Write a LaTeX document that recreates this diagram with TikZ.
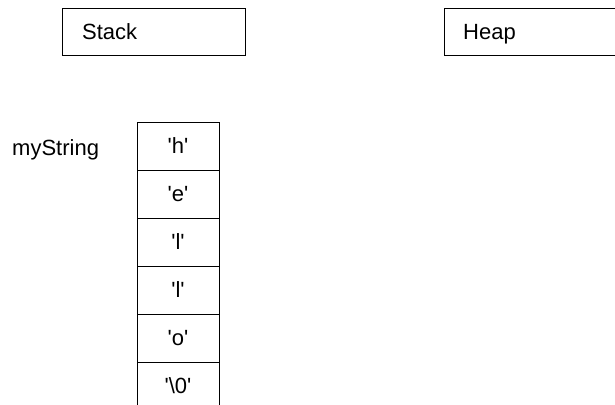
\documentclass[tikz,border=0pt]{standalone}
\usepackage{fontspec}
\setmainfont{Liberation Sans}
\newcommand{\sq}{\textquotesingle}
\begin{document}
\begin{tikzpicture}[x=1pt,y=-1pt,
  box/.style={draw=black,line width=1pt,minimum width=82pt,minimum height=48pt,inner sep=0pt,font=\fontsize{22}{26}\selectfont},
  lbl/.style={anchor=base west,inner sep=0pt,font=\fontsize{22}{26}\selectfont}]
\useasboundingbox (0,0) rectangle (615,404);
\clip (0,0) rectangle (615,404);
\draw[line width=1pt] (62.5,9) rectangle (245,56);
\node[lbl] (stack) at (82,40) {Stack};
\draw[line width=1pt] (630,9) -- (444,9) -- (444,56) -- (630,56);
\node[lbl] (heap) at (463,40) {Heap};
\node[lbl] (mys) at (12,155) {myString};
\foreach \t [count=\i from 0] in {h,e,l,l,o,\textbackslash 0} {
  \node[box] (c\i) at (178,{146+48*\i}) {\sq\t\sq};
}
\end{tikzpicture}
\end{document}
